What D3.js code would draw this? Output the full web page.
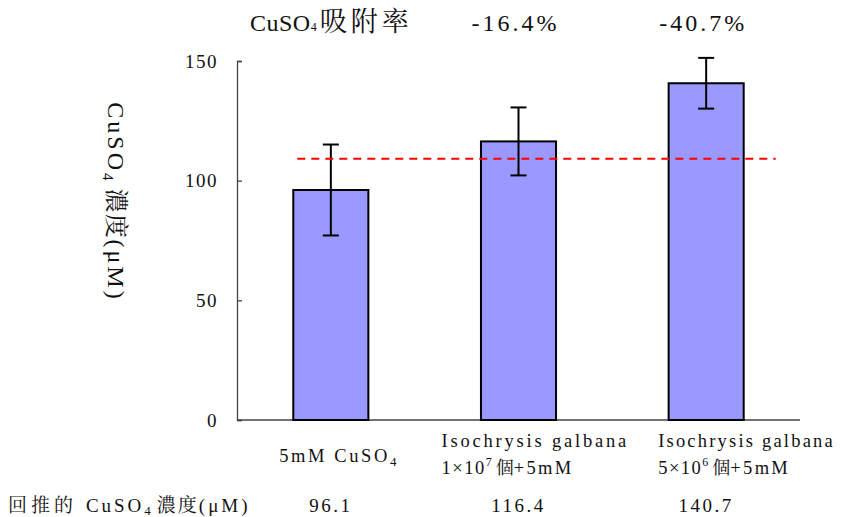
<!DOCTYPE html>
<html>
<head>
<meta charset="utf-8">
<script src="https://cdn.jsdelivr.net/npm/d3@7"></script>
<style>
  html, body { margin: 0; padding: 0; background: #fff; }
  svg { display: block; }
</style>
</head>
<body>
<svg id="chart" width="845" height="517"></svg>
<script>
// Categories and measured CuSO4 concentrations (μM)
const categories = ["c0", "c1", "c2"];
const values = [96.1, 116.4, 140.7];
const errors = [19.0, 14.2, 10.6];
const referenceLevel = 109.2;
const adsorption = ["", "-16.4%", "-40.7%"];
const yTicks = [0, 50, 100, 150];

const SERIF = '"Liberation Serif", "Times New Roman", serif';
const CJK = '"Noto Serif CJK TC", "Noto Sans CJK TC", serif';

const svg = d3.select("#chart");
const margin = { left: 237, right: 45, top: 61, bottom: 97 };
const W = 845, H = 517;

const x = d3.scaleBand()
  .domain(categories)
  .range([margin.left, W - margin.right])
  .paddingInner(0.6)
  .paddingOuter(0.3);

const y = d3.scaleLinear()
  .domain([0, 150])
  .range([H - margin.bottom, margin.top]);

// Y axis with inward ticks
const yAxis = svg.append("g")
  .attr("transform", `translate(${margin.left},0)`)
  .call(d3.axisLeft(y).tickValues(yTicks).tickSize(-5).tickPadding(19));
yAxis.select(".domain").attr("stroke", "#444").attr("stroke-width", 1.3);
yAxis.selectAll(".tick line").attr("stroke", "#444").attr("stroke-width", 1.3);
yAxis.selectAll(".tick text")
  .style("font-family", SERIF)
  .style("font-size", "19px")
  .style("letter-spacing", "1.5px")
  .attr("fill", "#111");

// X axis baseline
svg.append("line")
  .attr("x1", margin.left).attr("x2", W - margin.right)
  .attr("y1", y(0)).attr("y2", y(0))
  .attr("stroke", "#444").attr("stroke-width", 1.3);

// Bars
svg.append("g").selectAll("rect")
  .data(values)
  .join("rect")
  .attr("x", (d, i) => x(categories[i]))
  .attr("width", x.bandwidth())
  .attr("y", d => y(d))
  .attr("height", d => y(0) - y(d))
  .attr("fill", "#9999ff")
  .attr("stroke", "#000")
  .attr("stroke-width", 2);

// Error bars
const eb = svg.append("g").attr("stroke", "#000").attr("stroke-width", 2);
values.forEach((v, i) => {
  const cx = x(categories[i]) + x.bandwidth() / 2;
  const hi = y(v + errors[i]), lo = y(v - errors[i]);
  eb.append("line").attr("x1", cx).attr("x2", cx).attr("y1", hi).attr("y2", lo);
  eb.append("line").attr("x1", cx - 8).attr("x2", cx + 8).attr("y1", hi).attr("y2", hi);
  eb.append("line").attr("x1", cx - 8).attr("x2", cx + 8).attr("y1", lo).attr("y2", lo);
});

// Dashed reference line
svg.append("line")
  .attr("x1", x(categories[0]) + 4)
  .attr("x2", x(categories[2]) + x.bandwidth() + 32)
  .attr("y1", y(referenceLevel)).attr("y2", y(referenceLevel))
  .attr("stroke", "#ff0000")
  .attr("stroke-width", 2)
  .attr("stroke-dasharray", "8,6");

const cx = i => x(categories[i]) + x.bandwidth() / 2;

function txt(sel, family, size, spacing) {
  return sel.style("font-family", family)
    .style("font-size", size + "px")
    .style("letter-spacing", (spacing || 0) + "px");
}

// Top row: adsorption rates
const rateTitle = svg.append("text").attr("x", 250).attr("y", 31).attr("fill", "#111");
txt(rateTitle.append("tspan"), SERIF, 24, 0.5).text("CuSO");
txt(rateTitle.append("tspan"), SERIF, 12, 0).text("4");
txt(rateTitle.append("tspan").attr("dx", 3), CJK, 27, 4).text("吸附率");

adsorption.forEach((t, i) => {
  if (!t) return;
  txt(svg.append("text"), SERIF, 24, 3)
    .attr("x", cx(i) - 3).attr("y", 31)
    .attr("text-anchor", "middle")
    .attr("fill", "#111")
    .text(t);
});

// Y axis title (rotated, reading downward)
const yt = svg.append("text")
  .attr("transform", "translate(108,202) rotate(90)")
  .attr("text-anchor", "middle")
  .attr("fill", "#111");
txt(yt.append("tspan"), SERIF, 24, 3).text("CuSO");
txt(yt.append("tspan").attr("dy", 5), SERIF, 15, 0).text("4");
txt(yt.append("tspan").attr("dy", -5).attr("dx", 8), CJK, 24, 1.5).text("濃度");
txt(yt.append("tspan"), SERIF, 24, 3).text("(μM)");

// Category labels
const fs = 18.5;
const l0 = svg.append("text")
  .attr("x", cx(0) + 7).attr("y", 462).attr("text-anchor", "middle")
  .attr("fill", "#111");
txt(l0.append("tspan"), SERIF, fs, 2.6).text("5mM CuSO");
txt(l0.append("tspan").attr("dy", 4), SERIF, 13, 0).text("4");

function algaeLabel(i, coef, exp, dxShift, spacing) {
  const g = svg.append("g");
  txt(g.append("text"), SERIF, fs, spacing)
    .attr("x", cx(i) + dxShift).attr("y", 447)
    .attr("fill", "#111")
    .text("Isochrysis galbana");
  const t = g.append("text")
    .attr("x", cx(i) + dxShift).attr("y", 474)
    .attr("fill", "#111");
  txt(t.append("tspan"), SERIF, fs, 1.5).text(coef + "×10");
  txt(t.append("tspan").attr("dy", -8), SERIF, 12, 0).text(exp);
  txt(t.append("tspan").attr("dy", 8).attr("dx", 4), CJK, 18, 0).text("個");
  txt(t.append("tspan"), SERIF, fs, 2.3).text("+5mM");
}
algaeLabel(1, "1", "7", -77, 2.8);
algaeLabel(2, "5", "6", -48, 2.2);

// Bottom row: back-calculated concentrations
const bl = svg.append("text").attr("x", 8).attr("y", 512).attr("fill", "#111");
txt(bl.append("tspan"), CJK, 19, 4).text("回推的 ");
txt(bl.append("tspan"), SERIF, 19, 3).text("CuSO");
txt(bl.append("tspan").attr("dy", 3), SERIF, 13, 0).text("4");
txt(bl.append("tspan").attr("dy", -3).attr("dx", 6), CJK, 19, 2).text("濃度");
txt(bl.append("tspan"), SERIF, 19, 3).text("(μM)");

values.forEach((v, i) => {
  txt(svg.append("text"), SERIF, 19, 2.5)
    .attr("x", cx(i)).attr("y", 512).attr("text-anchor", "middle")
    .attr("fill", "#111")
    .text(v.toFixed(1));
});
</script>
</body>
</html>
